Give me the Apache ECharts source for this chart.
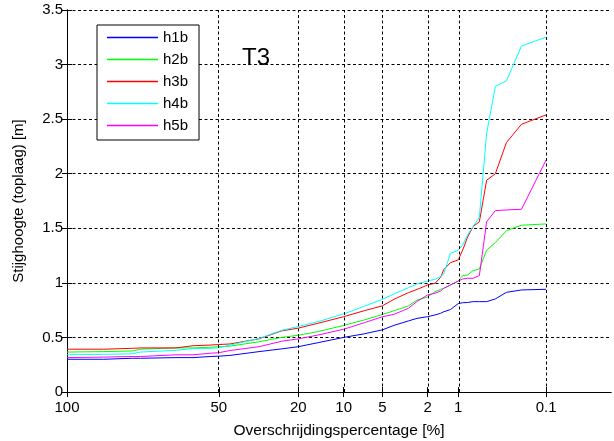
<!DOCTYPE html>
<html>
<head>
<meta charset="utf-8">
<script src="https://cdn.jsdelivr.net/npm/echarts@6/dist/echarts.min.js"></script>
<style>
  html, body { margin: 0; padding: 0; background: #fff; }
  #chart { width: 614px; height: 441px; }
</style>
</head>
<body>
<div id="chart"></div>
<script>
// Exceedance percentages [%] shared by all series
const exceedance = [100, 96, 88, 85, 70, 62, 54, 50, 45, 33, 25, 20, 15, 10, 7, 5, 4, 3, 2.5, 2, 1.7, 1.5, 1.4, 1.2, 1, 0.9, 0.8, 0.7, 0.6, 0.5, 0.4, 0.3, 0.2, 0.1];

// Stijghoogte (toplaag) [m] per series
const h1b = [0.30, 0.30, 0.309, 0.309, 0.315, 0.315, 0.325, 0.328, 0.335, 0.37, 0.395, 0.415, 0.452, 0.50, 0.533, 0.57, 0.611, 0.651, 0.675, 0.69, 0.706, 0.721, 0.735, 0.755, 0.81, 0.818, 0.82, 0.828, 0.828, 0.828, 0.853, 0.913, 0.935, 0.941];
const h2b = [0.366, 0.37, 0.376, 0.392, 0.404, 0.404, 0.41, 0.415, 0.42, 0.46, 0.50, 0.52, 0.553, 0.61, 0.66, 0.71, 0.745, 0.788, 0.843, 0.87, 0.92, 0.94, 0.95, 0.98, 1.017, 1.066, 1.072, 1.112, 1.127, 1.30, 1.369, 1.478, 1.528, 1.54];
const h3b = [0.392, 0.392, 0.40, 0.404, 0.404, 0.424, 0.43, 0.435, 0.44, 0.487, 0.56, 0.585, 0.63, 0.69, 0.745, 0.79, 0.85, 0.91, 0.94, 0.981, 0.996, 1.05, 1.12, 1.185, 1.21, 1.30, 1.42, 1.515, 1.56, 1.94, 2.00, 2.285, 2.453, 2.539];
const h4b = [0.341, 0.345, 0.35, 0.366, 0.382, 0.398, 0.40, 0.405, 0.43, 0.49, 0.565, 0.60, 0.645, 0.715, 0.785, 0.85, 0.898, 0.956, 0.99, 1.017, 1.033, 1.057, 1.08, 1.27, 1.30, 1.347, 1.44, 1.515, 1.60, 2.37, 2.80, 2.85, 3.17, 3.251];
const h5b = [0.315, 0.32, 0.325, 0.325, 0.341, 0.341, 0.355, 0.36, 0.38, 0.415, 0.465, 0.487, 0.522, 0.575, 0.635, 0.69, 0.712, 0.767, 0.83, 0.889, 0.905, 0.925, 0.95, 0.98, 1.017, 1.035, 1.042, 1.042, 1.066, 1.56, 1.662, 1.668, 1.674, 2.127];

// Tick positions on the exceedance axis
const tickPercents = [100, 50, 20, 10, 5, 2, 1, 0.1];
const tickLabels = ['100', '50', '20', '10', '5', '2', '1', '0.1'];

const seriesNames = ['h1b', 'h2b', 'h3b', 'h4b', 'h5b'];
const seriesValues = [h1b, h2b, h3b, h4b, h5b];
const seriesColors = ['#0000ff', '#00ff00', '#ff0000', '#00ffff', '#ff00ff'];

// Exponential-tail probability scale: u = sqrt(ln(100 / p))
const toU = p => Math.sqrt(Math.log(100 / p));
const uMax = 2.984;
const tickU = tickPercents.map(toU);

function labelFor(v) {
  let best = 0, d = Infinity;
  tickU.forEach((u, i) => { const e = Math.abs(u - v); if (e < d) { d = e; best = i; } });
  return tickLabels[best];
}

const font = 'Liberation Sans, Arial, Helvetica, sans-serif';
const gridLine = { type: [3, 2.5], color: '#000', width: 1 };
const lineIcon = 'path://M0,0L51,0L51,1.3L0,1.3Z';

const series = seriesNames.map((name, k) => ({
  name,
  type: 'line',
  data: exceedance.map((p, i) => [toU(p), seriesValues[k][i]]),
  symbol: 'none',
  lineStyle: { width: 1, color: seriesColors[k] },
  itemStyle: { color: seriesColors[k] },
  animation: false
}));

// Vertical dotted grid at the exceedance ticks
series[0].markLine = {
  silent: true,
  symbol: ['none', 'none'],
  label: { show: false },
  lineStyle: gridLine,
  data: tickU.slice(1).map(u => ({ xAxis: u })),
  animation: false
};

const chart = echarts.init(document.getElementById('chart'), null, { renderer: 'canvas' });
chart.setOption({
  backgroundColor: '#fff',
  animation: false,
  grid: { left: 67, right: 3, top: 10, bottom: 49, show: false, outerBoundsMode: 'none', containLabel: false },
  textStyle: { fontFamily: font },
  legend: {
    left: 97, top: 25,
    orient: 'vertical',
    data: seriesNames.map((n, k) => ({
      name: n,
      icon: lineIcon,
      itemStyle: { color: seriesColors[k], borderColor: seriesColors[k], borderWidth: 0 },
      lineStyle: { color: seriesColors[k], width: 0 }
    })),
    itemWidth: 51, itemHeight: 14, itemGap: 7,
    padding: [5, 11, 7, 10],
    backgroundColor: '#fff',
    borderColor: '#000', borderWidth: 1,
    textStyle: { fontSize: 15, color: '#000', fontFamily: font },
    selectedMode: false
  },
  xAxis: [{
    type: 'value', min: 0, max: uMax,
    name: 'Overschrijdingspercentage [%]',
    nameLocation: 'middle', nameGap: 31,
    nameTextStyle: { fontSize: 15.5, color: '#000', fontFamily: font },
    axisLine: { lineStyle: { color: '#000', width: 1 } },
    axisTick: { inside: true, length: 5, customValues: tickU, lineStyle: { color: '#000' } },
    axisLabel: { customValues: tickU, formatter: labelFor, margin: 8, fontSize: 15, color: '#000', fontFamily: font },
    splitLine: { show: false }
  }, {
    type: 'value', min: 0, max: uMax, position: 'top',
    axisLine: { show: true, lineStyle: { color: '#000', width: 1 } },
    axisTick: { inside: true, length: 5, customValues: tickU, lineStyle: { color: '#000' } },
    axisLabel: { show: false },
    splitLine: { show: false }
  }],
  yAxis: [{
    type: 'value', min: 0, max: 3.5, interval: 0.5,
    name: 'Stijghoogte (toplaag) [m]',
    nameLocation: 'middle', nameGap: 41,
    nameTextStyle: { fontSize: 15, color: '#000', fontFamily: font },
    axisLine: { show: true, lineStyle: { color: '#000', width: 1 } },
    axisTick: { inside: true, length: 5, lineStyle: { color: '#000' } },
    axisLabel: { margin: 4, fontSize: 15, color: '#000', fontFamily: font },
    splitLine: { show: true, lineStyle: gridLine }
  }, {
    type: 'value', min: 0, max: 3.5, interval: 0.5, position: 'right',
    axisLine: { show: true, lineStyle: { color: '#000', width: 1 } },
    axisTick: { inside: true, length: 5, lineStyle: { color: '#000' } },
    axisLabel: { show: false },
    splitLine: { show: false }
  }],
  graphic: [{
    type: 'group', z: 100,
    children: [
      { type: 'rect', left: 233, top: 38, shape: { width: 95, height: 42 }, style: { fill: '#fff' } },
      { type: 'text', left: 242, top: 46, style: { text: 'T3', font: '24px ' + font, fill: '#000' } }
    ]
  }],
  series
});
</script>
</body>
</html>
